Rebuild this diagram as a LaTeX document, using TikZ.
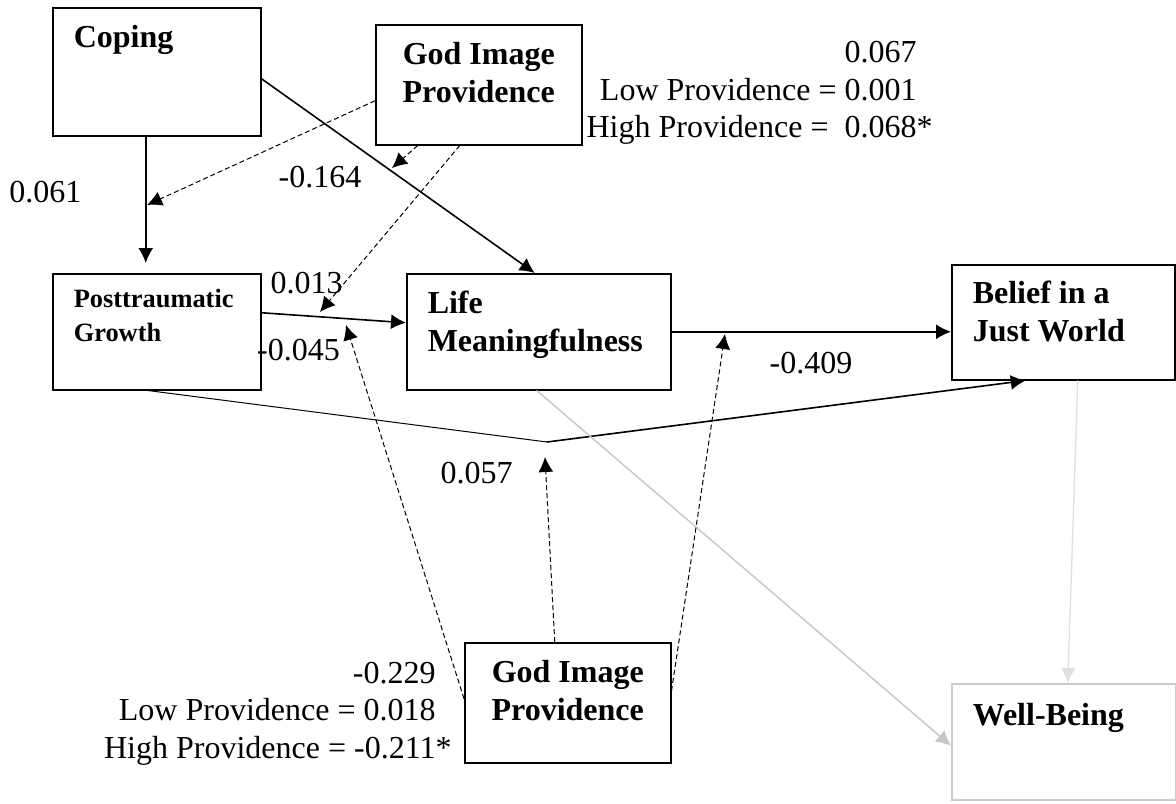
\documentclass[tikz,border=0pt]{standalone}
\usepackage{fontspec}
\setmainfont{Liberation Serif}
\usetikzlibrary{arrows.meta,positioning}

\begin{document}
\begin{tikzpicture}[
  box/.style={draw, rectangle, line width=0.75pt, inner xsep=10.5pt, inner ysep=0pt, align=flush left, anchor=north west, font=\fontsize{16}{19}\selectfont\bfseries},
  gibox/.style={box, align=flush center},
  coef/.style={inner sep=0pt, font=\fontsize{16}{18.75}\selectfont},
  path/.style={->, line width=0.8pt},
  moder/.style={->, line width=0.5pt, dash pattern=on 2.5pt off 1.5pt},
  >={Latex[length=7.5pt,width=7.5pt]}
]
\useasboundingbox (0,0) rectangle (588pt,-401.5pt);

\node[box, text width=83pt, text height=20pt, text depth=44pt, xshift=26pt, yshift=-3.5pt] (C) {Coping};
\node[gibox, text width=82pt, text height=20pt, text depth=40pt, xshift=187.5pt, yshift=-12pt] (GT) {God Image\\Providence};
\node[box, font=\fontsize{13.2}{17}\selectfont\bfseries, text width=83pt, text height=17pt, text depth=41pt, xshift=26pt, yshift=-136.5pt] (PTG) {Posttraumatic\\Growth};
\node[box, text width=111pt, text height=20pt, text depth=38pt, xshift=203pt, yshift=-136.5pt] (LM) {Life\\Meaningfulness};
\node[box, text width=90.5pt, text height=19.5pt, text depth=38pt, xshift=475.5pt, yshift=-132pt] (BJW) {Belief in a\\Just World};
\node[box, draw=black!20, text width=91pt, text height=21pt, text depth=37pt, xshift=475.5pt, yshift=-341.5pt] (WB) {Well-Being};
\node[gibox, text width=82pt, text height=20pt, text depth=40pt, xshift=232pt, yshift=-321pt] (GB) {God Image\\Providence};
%============
\node[coef, text width=230pt, align=flush right, anchor=base east, xshift=458.5pt, yshift=-31.3pt] (effT) {0.067\\Low Providence = 0.001\\High Providence = \ 0.068\rlap{*}};
\node[coef, text width=230pt, align=flush right, anchor=base east, xshift=218pt, yshift=-341.5pt] (effB) {-0.229\\Low Providence = 0.018\\High Providence = -0.211\rlap{*}};
\node[coef, xshift=22.75pt, yshift=-96pt] (b1) {0.061};
\node[coef, xshift=160pt, yshift=-88.5pt] (b2) {-0.164};
\node[coef, xshift=153.25pt, yshift=-141.5pt] (b3) {0.013};
\node[coef, xshift=149.25pt, yshift=-175pt] (b4) {-0.045};
\node[coef, xshift=238.25pt, yshift=-236.5pt] (b5) {0.057};
\node[coef, xshift=405.5pt, yshift=-181.5pt] (b6) {-0.409};
%============
\coordinate (m1) at (73.5pt,-102.5pt);
\coordinate (m2) at (196pt,-84pt);
\coordinate (m3) at (160pt,-156pt);
\coordinate (m4) at (173pt,-162.5pt);
\coordinate (m5) at (272.5pt,-228.5pt);
\coordinate (m6) at (362.5pt,-167pt);
\coordinate (k) at (273.5pt,-221pt);
%==========

            \draw[path] ([xshift=-5.5pt]C.south) -- ([xshift=-5.5pt, yshift=5pt]PTG.north);
            \draw[path] ([yshift=-3.5pt]C.east) -- ([xshift=-2pt]LM.north);
            \draw[path] ([yshift=9.5pt]PTG.east) -- ([yshift=4.5pt]LM.west);
            \draw[path] (LM.east) -- (LM.east -| BJW.west);

            \draw[line width=0.5pt] ([xshift=-4.5pt]PTG.south) -- (k);
            \draw[path] (k) -- ([xshift=-18.75pt]BJW.south);

            \draw[->, black!22, line width=0.7pt] ([xshift=-1pt]LM.south) -- ([yshift=-2pt]WB.west);
            \draw[->, black!12, line width=0.7pt] ([xshift=7.25pt]BJW.south) -- ([xshift=2pt]WB.north);

            % moderation by god image
            \draw[moder] ([yshift=-8pt]GT.west) -- (m1);
            \draw[moder] ([xshift=-30.5pt]GT.south) -- (m2);
            \draw[moder] ([xshift=-9.5pt]GT.south) -- (m3);

            \draw[moder] ([yshift=2pt]GB.west) -- (m4);
            \draw[moder] ([xshift=-6.5pt]GB.north) -- (m5);
            \draw[moder] ([yshift=6pt]GB.east) -- (m6);

\end{tikzpicture}
\end{document}
